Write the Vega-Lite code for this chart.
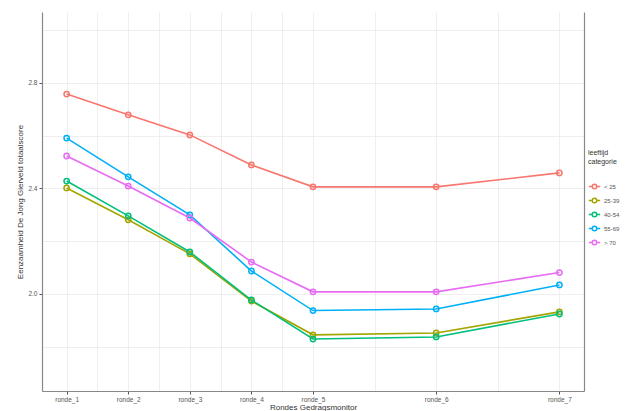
{
  "$schema": "https://vega.github.io/schema/vega-lite/v6.json",
  "width": 542,
  "height": 379,
  "autosize": "none",
  "padding": {"left": 42, "top": 12, "right": 48, "bottom": 20},
  "background": "white",
  "config": {
    "font": "Liberation Sans",
    "view": {"stroke": null},
    "axis": {
      "labelFont": "Liberation Sans",
      "titleFont": "Liberation Sans",
      "labelFontSize": 6.5,
      "labelColor": "#555555",
      "titleFontSize": 8,
      "titleFontWeight": "normal",
      "titleColor": "#333333",
      "domainColor": "#888888",
      "domainWidth": 1.2,
      "tickColor": "#555555",
      "tickSize": 3,
      "gridColor": "#ebebeb",
      "gridWidth": 0.8
    },
    "legend": {
      "labelFont": "Liberation Sans",
      "titleFont": "Liberation Sans"
    }
  },
  "data": {
    "values": [
      {"ronde": "ronde_1", "pos": 1, "cat": "< 25", "score": 2.758},
      {"ronde": "ronde_2", "pos": 2, "cat": "< 25", "score": 2.679},
      {"ronde": "ronde_3", "pos": 3, "cat": "< 25", "score": 2.603},
      {"ronde": "ronde_4", "pos": 4, "cat": "< 25", "score": 2.489},
      {"ronde": "ronde_5", "pos": 5, "cat": "< 25", "score": 2.406},
      {"ronde": "ronde_6", "pos": 7, "cat": "< 25", "score": 2.406},
      {"ronde": "ronde_7", "pos": 9, "cat": "< 25", "score": 2.459},
      {"ronde": "ronde_1", "pos": 1, "cat": "25-39", "score": 2.402},
      {"ronde": "ronde_2", "pos": 2, "cat": "25-39", "score": 2.281},
      {"ronde": "ronde_3", "pos": 3, "cat": "25-39", "score": 2.152},
      {"ronde": "ronde_4", "pos": 4, "cat": "25-39", "score": 1.973},
      {"ronde": "ronde_5", "pos": 5, "cat": "25-39", "score": 1.845},
      {"ronde": "ronde_6", "pos": 7, "cat": "25-39", "score": 1.852},
      {"ronde": "ronde_7", "pos": 9, "cat": "25-39", "score": 1.932},
      {"ronde": "ronde_1", "pos": 1, "cat": "40-54", "score": 2.428},
      {"ronde": "ronde_2", "pos": 2, "cat": "40-54", "score": 2.296},
      {"ronde": "ronde_3", "pos": 3, "cat": "40-54", "score": 2.159},
      {"ronde": "ronde_4", "pos": 4, "cat": "40-54", "score": 1.977},
      {"ronde": "ronde_5", "pos": 5, "cat": "40-54", "score": 1.829},
      {"ronde": "ronde_6", "pos": 7, "cat": "40-54", "score": 1.837},
      {"ronde": "ronde_7", "pos": 9, "cat": "40-54", "score": 1.924},
      {"ronde": "ronde_1", "pos": 1, "cat": "55-69", "score": 2.591},
      {"ronde": "ronde_2", "pos": 2, "cat": "55-69", "score": 2.444},
      {"ronde": "ronde_3", "pos": 3, "cat": "55-69", "score": 2.300},
      {"ronde": "ronde_4", "pos": 4, "cat": "55-69", "score": 2.087},
      {"ronde": "ronde_5", "pos": 5, "cat": "55-69", "score": 1.937},
      {"ronde": "ronde_6", "pos": 7, "cat": "55-69", "score": 1.943},
      {"ronde": "ronde_7", "pos": 9, "cat": "55-69", "score": 2.034},
      {"ronde": "ronde_1", "pos": 1, "cat": "> 70", "score": 2.523},
      {"ronde": "ronde_2", "pos": 2, "cat": "> 70", "score": 2.409},
      {"ronde": "ronde_3", "pos": 3, "cat": "> 70", "score": 2.288},
      {"ronde": "ronde_4", "pos": 4, "cat": "> 70", "score": 2.121},
      {"ronde": "ronde_5", "pos": 5, "cat": "> 70", "score": 2.008},
      {"ronde": "ronde_6", "pos": 7, "cat": "> 70", "score": 2.008},
      {"ronde": "ronde_7", "pos": 9, "cat": "> 70", "score": 2.081}
    ]
  },
  "encoding": {
    "x": {
      "field": "pos",
      "type": "quantitative",
      "scale": {"domain": [0.6, 9.4], "nice": false, "zero": false},
      "axis": {
        "title": "Rondes Gedragsmonitor",
        "values": [1, 1.5, 2, 2.5, 3, 3.5, 4, 4.5, 5, 6, 7, 8, 9],
        "labelExpr": "datum.value == 1 ? 'ronde_1' : datum.value == 2 ? 'ronde_2' : datum.value == 3 ? 'ronde_3' : datum.value == 4 ? 'ronde_4' : datum.value == 5 ? 'ronde_5' : datum.value == 7 ? 'ronde_6' : datum.value == 9 ? 'ronde_7' : ''",
        "tickOpacity": {"condition": {"test": "indexof([1,2,3,4,5,7,9], datum.value) >= 0", "value": 1}, "value": 0},
        "labelPadding": 2,
        "titlePadding": 1,
        "labelFlush": false,
        "labelOverlap": false
      }
    },
    "color": {
      "field": "cat",
      "type": "nominal",
      "scale": {
        "domain": ["< 25", "25-39", "40-54", "55-69", "> 70"],
        "range": ["#F8766D", "#A3A500", "#00BF7D", "#00B0F6", "#E76BF3"]
      },
      "legend": {
        "title": ["leeftijd", "categorie"],
        "orient": "none",
        "legendX": 546,
        "legendY": 137,
        "titleFontSize": 7,
        "titleFontWeight": "normal",
        "titleColor": "#333333",
        "titlePadding": 15,
        "labelFontSize": 6,
        "labelColor": "#555555",
        "symbolType": "M-1,0L-0.4,0M0.4,0L1,0M-0.4,0A0.4,0.4,0,1,0,0.4,0A0.4,0.4,0,1,0,-0.4,0",
        "symbolSize": 130,
        "symbolStrokeWidth": 1.5,
        "symbolFillColor": "white",
        "rowPadding": 2,
        "labelOffset": 3
      }
    }
  },
  "layer": [
    {
      "encoding": {
        "y": {
          "field": "score",
          "type": "quantitative",
          "scale": {"domain": [1.632, 3.069], "nice": false, "zero": false},
          "axis": {
            "title": "Eenzaamheid De Jong Gierveld totaalscore",
            "orient": "left",
            "values": [1.8, 2.0, 2.2, 2.4, 2.6, 2.8, 3.0],
            "labelExpr": "indexof([2, 2.4, 2.8], datum.value) >= 0 ? format(datum.value, '.1f') : ''",
            "tickOpacity": {"condition": {"test": "indexof([2, 2.4, 2.8], datum.value) >= 0", "value": 1}, "value": 0},
            "labelPadding": 2,
            "titlePadding": 3,
            "labelFlush": false,
            "labelOverlap": false
          }
        }
      },
      "layer": [
        {
          "mark": {"type": "line", "strokeWidth": 1.6},
          "encoding": {"detail": {"field": "cat"}}
        },
        {
          "mark": {"type": "point", "shape": "circle", "filled": false, "size": 28, "strokeWidth": 1.5, "opacity": 1}
        }
      ]
    },
    {
      "mark": {"type": "point", "opacity": 0},
      "encoding": {
        "y": {
          "field": "score",
          "type": "quantitative",
          "scale": {"domain": [1.632, 3.069], "nice": false, "zero": false},
          "axis": {"orient": "right", "title": null, "labels": false, "ticks": false, "grid": false, "domain": true}
        }
      }
    }
  ],
  "resolve": {"axis": {"y": "independent"}}
}
